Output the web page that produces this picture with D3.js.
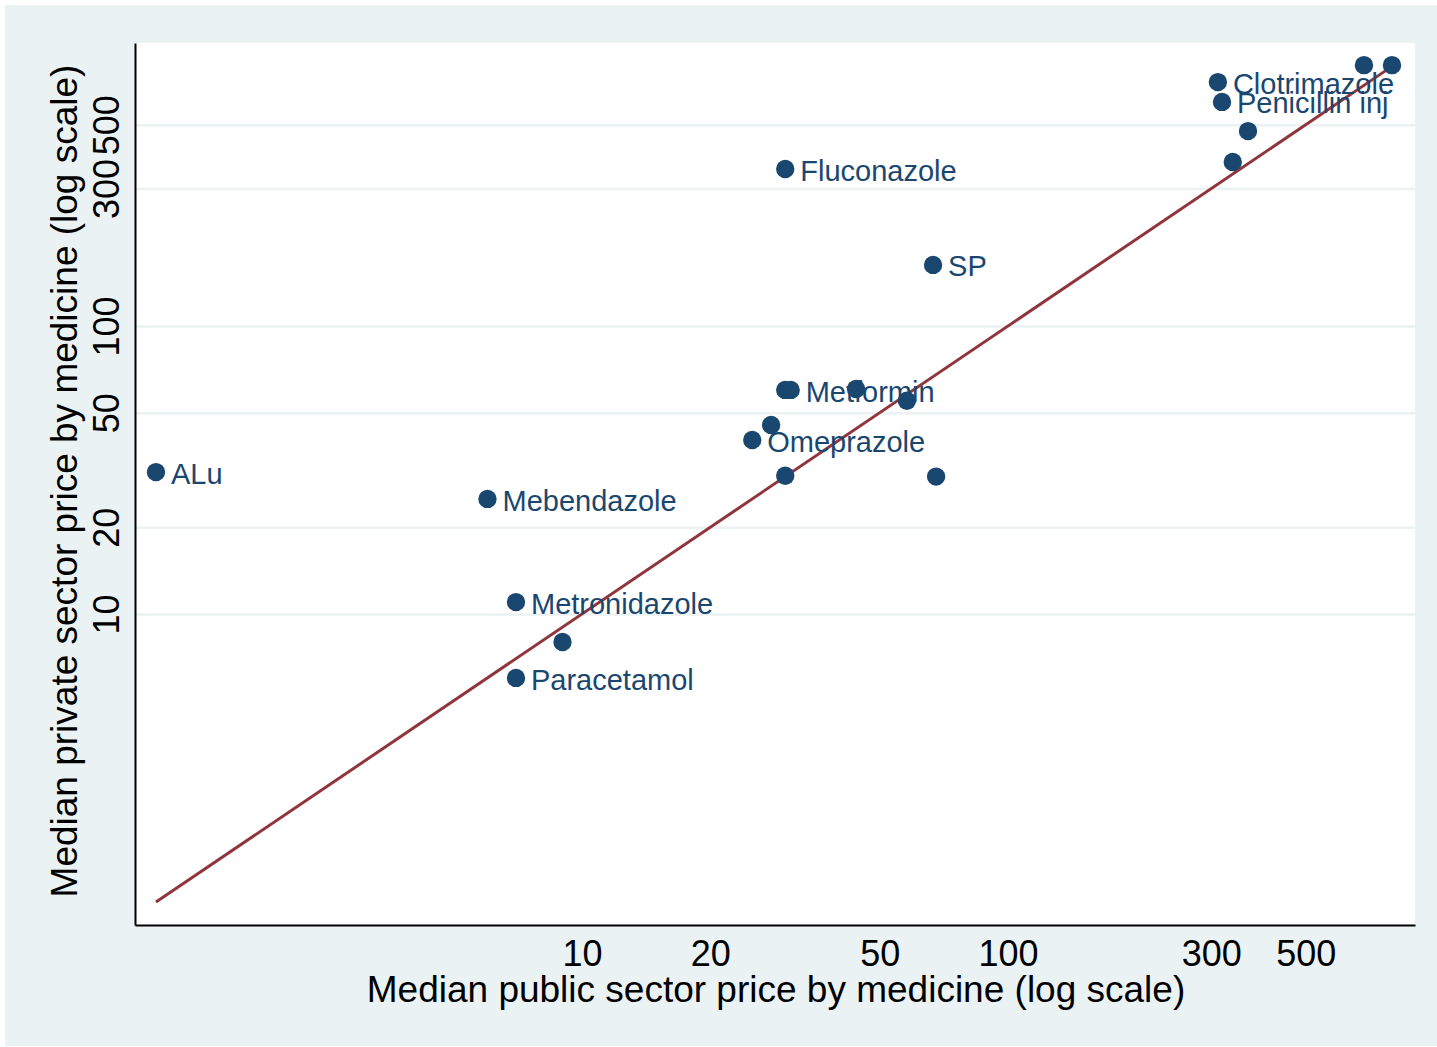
<!DOCTYPE html>
<html>
<head>
<meta charset="utf-8">
<script src="https://cdn.jsdelivr.net/npm/d3@7"></script>
<style>
  html, body { margin: 0; padding: 0; background: #ffffff; }
  svg { display: block; }
  text { font-family: "Liberation Sans", Arial, Helvetica, sans-serif; }
</style>
</head>
<body>
<svg id="chart" width="1437" height="1047"></svg>
<script>
// ---- data ----
const medicineNames = ["ALu", "Mebendazole", "Metronidazole", "Paracetamol", "", "Omeprazole", "", "", "Metformin", "", "", "", "", "SP", "Fluconazole", "Clotrimazole", "Penicillin inj", "", "", "", ""];
const publicPrice  = [1.0, 6.0, 7.0, 7.0, 9.0, 25.1, 27.8, 30.0, 30.9, 44.0, 57.9, 30.0, 67.8, 66.7, 30.0, 311, 318, 366, 337, 685, 797];
const privatePrice = [31.1, 25.1, 11.0, 6.0, 8.0, 40.2, 45.3, 60.0, 60.0, 60.4, 55.0, 30.2, 30.0, 163, 351, 703, 600, 475, 371, 805, 805];
const xTickValues = [10, 20, 50, 100, 300, 500];
const yTickValues = [10, 20, 50, 100, 300, 500];
const xTitle = "Median public sector price by medicine (log scale)";
const yTitle = "Median private sector price by medicine (log scale)";

// ---- layout ----
const W = 1437, H = 1047;
const plot = { left: 135, right: 1415, top: 43, bottom: 925 };
const navy = "#1a476f", maroon = "#90353b", bg = "#eaf2f3";

const svg = d3.select("#chart");

// outer background
svg.append("rect").attr("x", 5).attr("y", 5).attr("width", W - 5).attr("height", H - 6).attr("fill", bg);
// plot region
svg.append("rect").attr("x", plot.left).attr("y", plot.top)
  .attr("width", plot.right - plot.left).attr("height", plot.bottom - plot.top).attr("fill", "#ffffff");

const x = d3.scaleLog().domain([0.8928, 902.5]).range([plot.left, plot.right]);
const y = d3.scaleLog().domain([0.8322, 960.8]).range([plot.bottom, plot.top]);

// grid lines
const grid = svg.append("g").attr("transform", `translate(${plot.left},0)`)
  .call(d3.axisLeft(y).tickValues(yTickValues).tickFormat("").tickSize(-(plot.right - plot.left)).tickSizeOuter(0));
grid.select(".domain").remove();
grid.selectAll("line").attr("stroke", bg).attr("stroke-width", 2.5);

// points
const data = publicPrice.map((p, i) => ({ name: medicineNames[i], pub: p, priv: privatePrice[i] }));

// y = x reference line between min and max public price
const ext = d3.extent(publicPrice);
svg.append("line")
  .attr("x1", x(ext[0])).attr("y1", y(ext[0]))
  .attr("x2", x(ext[1])).attr("y2", y(ext[1]))
  .attr("stroke", maroon).attr("stroke-width", 3);

svg.append("g").selectAll("circle").data(data).join("circle")
  .attr("cx", d => x(d.pub)).attr("cy", d => y(d.priv)).attr("r", 9.2)
  .attr("fill", navy);

svg.append("g").selectAll("text").data(data.filter(d => d.name)).join("text")
  .attr("x", d => x(d.pub) + 15).attr("y", d => y(d.priv)).attr("dy", "0.4em")
  .attr("fill", navy).attr("font-size", 29).text(d => d.name);

// x axis
const xAxis = svg.append("g").attr("transform", `translate(0,${plot.bottom})`)
  .call(d3.axisBottom(x).tickValues(xTickValues).tickFormat(d3.format("d")).tickSize(0).tickSizeOuter(0));
xAxis.select(".domain").attr("stroke", "#000").attr("stroke-width", 2);
xAxis.selectAll("text").attr("y", 41).attr("dy", 0).attr("font-size", 36)
  .attr("fill", "#000").attr("font-family", "Liberation Sans, Arial, sans-serif");

// y axis
const yAxis = svg.append("g").attr("transform", `translate(${plot.left},0)`)
  .call(d3.axisLeft(y).tickValues(yTickValues).tickFormat(d3.format("d")).tickSize(0).tickSizeOuter(0));
yAxis.select(".domain").attr("stroke", "#000").attr("stroke-width", 2);
yAxis.selectAll("text").attr("x", 0).attr("dy", 0).attr("text-anchor", "middle")
  .attr("transform", "translate(-16,0) rotate(-90)")
  .attr("font-size", 36).attr("fill", "#000").attr("font-family", "Liberation Sans, Arial, sans-serif");

// titles
svg.append("text").attr("x", (plot.left + plot.right) / 2 + 1).attr("y", 1002)
  .attr("text-anchor", "middle").attr("font-size", 37).attr("fill", "#000").text(xTitle);
svg.append("text").attr("transform", `translate(77,${(plot.top + plot.bottom) / 2 - 3}) rotate(-90)`)
  .attr("text-anchor", "middle").attr("font-size", 37).attr("fill", "#000").text(yTitle);
</script>
</body>
</html>
